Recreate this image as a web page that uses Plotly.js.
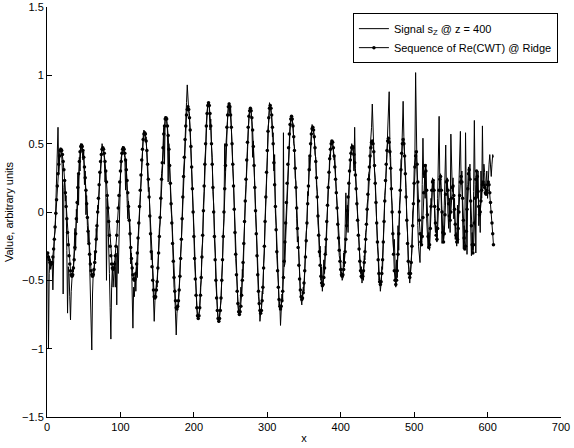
<!DOCTYPE html>
<html>
<head>
<meta charset="utf-8">
<script src="https://cdn.plot.ly/plotly-3.0.1.min.js"></script>
<style>html,body{margin:0;padding:0;background:#fff;}#chart{width:574px;height:448px;}</style>
</head>
<body>
<div id="chart"></div>
<script>
// Sample index of the first value in each series (one value per unit of x)
var firstSample = 1;
// Values are stored in hundredths of the plotted unit
var valueScale = 0.01;

// Signal s_Z @ z = 400 (x = 1 ... 608)
var signalValues = [
-30,-100,-45,-35,-42,-38,
-36,-57,-30,-18,-14,5,20,30,62,28,38,47,45,
42,30,-60,18,24,8,12,-28,-74,-40,-45,-62,-79,-58,-46,
-40,-44,-30,-12,-28,2,-8,27,5,40,30,50,46,
44,38,44,20,30,-2,12,-10,-22,-15,-40,-62,-85,-101,-60,
-44,-46,-30,-35,-12,-20,5,2,22,30,28,44,50,46,
44,40,22,30,-50,10,-5,-20,-45,-70,-93,-55,-40,-55,
-42,-36,-55,-30,-68,-25,-45,-10,15,25,40,42,48,46,
44,40,16,38,10,-5,8,-3,-10,-38,-30,-60,-85,-55,-62,
-45,-58,-40,-48,-25,-12,2,18,24,40,44,55,60,57,
52,55,40,38,15,18,-8,-14,-35,-30,-55,-62,-80,-65,
-60,-52,-55,-35,-32,-12,-8,15,28,34,55,62,35,70,68,
66,60,22,50,30,24,2,-5,-28,-32,-55,-60,-72,-90,-74,
-68,-70,-52,-50,-30,-22,0,8,30,38,58,62,80,93,80,
74,72,58,50,30,20,-3,-15,-36,-46,-63,-68,-78,-76,
-74,-72,-55,-50,-28,-22,5,15,38,46,65,70,80,78,
76,60,68,48,40,15,5,-20,-30,-52,-60,-74,-78,-81,
-77,-70,-65,-48,-38,-15,-5,50,30,52,60,74,76,80,
72,78,58,52,32,22,0,-12,-34,-44,-60,-66,-75,-73,
-68,-55,-62,-42,-48,-20,-10,10,20,42,48,60,68,76,74,
72,66,40,52,28,20,-2,-14,-36,-44,-62,-66,-80,-74,
-70,-58,-60,-38,-30,-5,8,32,40,62,66,80,76,
74,70,55,58,30,42,0,-10,-32,-40,-52,-68,-66,-83,
-72,-60,-64,58,-40,-38,-20,-5,10,18,36,45,60,65,70,
66,65,50,48,25,22,-5,-22,-18,-42,-45,-60,-64,-68,
-60,-55,-58,-40,-38,-15,-10,15,12,40,30,52,55,64,60,
58,56,42,40,20,15,-8,-15,-33,-25,-50,-40,-58,
-50,-35,-45,-25,-30,-5,2,20,25,42,40,52,50,
50,44,38,40,20,15,5,-12,-15,-32,-35,-45,-44,-50,
-48,-30,-40,-5,14,-10,5,-15,25,28,38,42,50,46,
44,30,62,32,20,8,-8,-12,-30,-35,-45,-40,-52,
-44,-50,-32,-35,-15,-12,5,10,28,30,46,52,62,79,
60,48,30,25,4,-5,-25,-32,-50,-48,-58,
-52,-40,-42,-15,-10,12,18,40,42,60,70,
88,50,40,12,5,-20,-28,-20,-45,-55,
-35,-48,-10,-28,5,12,38,40,60,81,
55,45,30,18,-8,-15,-38,-42,-52,
-40,-30,-28,0,5,30,40,102,45,
20,-10,-25,-30,-37,-15,-22,20,54,25,
30,10,35,-5,-20,-26,-15,-28,0,10,
5,25,15,22,-5,-15,-10,-22,10,30,
70,20,28,5,-23,-10,-20,5,30,49,
15,25,0,-12,10,-15,57,20,15,25,
-5,10,-20,-15,-25,5,-23,20,35,59,
20,30,-5,-27,-10,-20,58,-5,-31,20,
33,25,35,-10,-32,-15,-28,15,67,20,
-30,25,10,30,-10,5,-15,30,10,63,
20,35,29,15,25,30,10,28,35,42,
30,26,35,42,40
];

// Sequence of Re(CWT) @ Ridge (x = 1 ... 608)
var ridgeValues = [
-30,-33,-35,-37,-38,-38,
-37,-33,-27,-20,-11,-1,9,19,28,35,41,45,46,
45,42,37,31,23,14,4,-5,-15,-24,-32,-38,-43,-46,-47,
-46,-41,-35,-26,-16,-5,7,18,28,37,44,48,49,
48,45,40,33,25,16,6,-4,-14,-23,-31,-38,-43,-46,-47,
-46,-42,-37,-29,-20,-10,0,10,20,29,37,42,46,47,
46,43,37,30,22,12,3,-7,-17,-25,-32,-38,-41,-42,
-41,-38,-32,-25,-17,-7,3,12,22,30,37,43,46,47,
46,43,38,31,23,14,4,-6,-16,-26,-34,-41,-46,-49,-50,
-49,-45,-38,-30,-19,-8,4,16,27,38,46,53,57,58,
57,52,45,35,24,11,-3,-16,-29,-40,-50,-57,-62,-63,
-62,-57,-51,-41,-30,-18,-4,10,24,36,47,57,63,68,69,
68,63,56,46,34,21,6,-8,-23,-36,-48,-58,-65,-70,-71,
-69,-65,-57,-47,-34,-20,-5,11,26,40,53,63,71,75,77,
75,69,60,48,33,17,0,-18,-34,-49,-61,-70,-76,-78,
-76,-70,-61,-48,-33,-17,1,19,35,50,63,72,78,80,
78,72,63,50,35,18,0,-18,-35,-50,-63,-72,-78,-80,
-78,-72,-63,-50,-35,-18,0,17,34,49,62,71,77,79,
77,71,62,50,35,19,2,-15,-31,-46,-58,-67,-73,-75,
-73,-69,-61,-50,-37,-23,-7,8,24,38,51,62,70,74,76,
74,69,60,48,34,18,1,-16,-32,-46,-58,-67,-72,-74,
-72,-65,-55,-41,-25,-7,11,29,45,59,69,76,78,
76,71,62,50,36,20,4,-13,-29,-43,-55,-64,-69,-71,
-69,-65,-58,-48,-36,-22,-8,7,21,35,47,57,64,68,70,
68,63,55,45,32,18,3,-12,-26,-39,-49,-57,-62,-64,
-63,-59,-52,-43,-33,-21,-8,6,19,31,41,50,57,61,62,
60,55,47,37,25,11,-3,-17,-29,-39,-47,-52,-54,
-53,-48,-41,-31,-20,-7,5,18,29,39,46,50,52,
51,47,41,33,24,14,3,-9,-19,-28,-36,-42,-46,-47,
-46,-42,-37,-29,-20,-10,1,11,21,30,38,43,47,48,
47,42,36,27,17,6,-6,-17,-27,-36,-43,-47,-48,
-47,-43,-37,-29,-20,-9,2,13,24,33,41,47,51,52,
50,44,34,21,7,-8,-22,-35,-45,-51,-53,
-51,-45,-35,-22,-7,8,23,35,45,52,54,
51,44,32,17,0,-16,-31,-43,-50,-53,
-50,-43,-31,-16,0,16,31,43,50,53,
50,41,28,11,-6,-23,-36,-45,-48,
-45,-37,-25,-10,6,21,33,41,44,
35,22,8,-6,-16,-22,-24,-18,-4,14,
28,34,30,16,-2,-18,-26,-24,-12,4,
16,22,23,16,4,-8,-17,-20,-12,2,
16,24,26,16,0,-15,-22,-16,-2,13,
22,23,16,6,-3,-6,0,10,18,19,
12,2,-9,-17,-22,-20,-12,0,12,22,
26,22,10,-6,-19,-27,-25,-14,2,17,
28,31,24,8,-10,-24,-30,-24,-8,10,
24,30,26,15,4,-2,0,8,16,20,
22,20,18,14,13,16,20,22,20,14,
7,0,-8,-16,-24
];

var seriesNames = ['Signal s<sub>Z</sub> @ z = 400', 'Sequence of Re(CWT) @ Ridge'];
var xTicks = [0, 100, 200, 300, 400, 500, 600, 700];
var yTicks = [-1.5, -1, -0.5, 0, 0.5, 1, 1.5];
var yTickLabels = ['\u22121.5', '\u22121', '\u22120.5', '0', '0.5', '1', '1.5'];

function xs(arr) { return arr.map(function (_, i) { return firstSample + i; }); }
function ys(arr) { return arr.map(function (v) { return v * valueScale; }); }

var traces = [
  {
    x: xs(signalValues), y: ys(signalValues), name: seriesNames[0],
    type: 'scatter', mode: 'lines',
    line: { color: '#000000', width: 1 }
  },
  {
    x: xs(ridgeValues), y: ys(ridgeValues), name: seriesNames[1],
    type: 'scatter', mode: 'lines+markers',
    line: { color: '#000000', width: 1 },
    marker: { color: '#000000', size: 3.5, symbol: 'circle' }
  }
];

var axisFont = { family: 'Liberation Sans, Arial, sans-serif', size: 11, color: '#000' };

var layout = {
  width: 574, height: 448,
  margin: { l: 47, r: 13, t: 7, b: 31, pad: 0 },
  paper_bgcolor: '#ffffff', plot_bgcolor: '#ffffff',
  font: axisFont,
  showlegend: true,
  legend: {
    x: 0.994, y: 0.985, xanchor: 'right', yanchor: 'top',
    bgcolor: '#ffffff', bordercolor: '#000000', borderwidth: 1,
    font: { family: 'Liberation Sans, Arial, sans-serif', size: 11, color: '#000' },
    tracegroupgap: 0, itemwidth: 30
  },
  xaxis: {
    range: [0, 700], tickvals: xTicks, ticktext: xTicks.map(String),
    ticks: 'inside', ticklen: 5, tickcolor: '#000', tickwidth: 1,
    showline: true, linecolor: '#000', linewidth: 1, mirror: false,
    showgrid: false, zeroline: false,
    tickfont: axisFont,
    title: { text: 'x', font: axisFont, standoff: 2 }
  },
  yaxis: {
    range: [-1.5, 1.5], tickvals: yTicks, ticktext: yTickLabels,
    ticks: 'inside', ticklen: 5, tickcolor: '#000', tickwidth: 1,
    showline: true, linecolor: '#000', linewidth: 1, mirror: false,
    showgrid: false, zeroline: false,
    tickfont: axisFont,
    title: { text: 'Value, arbitrary units', font: axisFont, standoff: 6 }
  }
};

Plotly.newPlot('chart', traces, layout, { displayModeBar: false, staticPlot: true });
</script>
</body>
</html>
